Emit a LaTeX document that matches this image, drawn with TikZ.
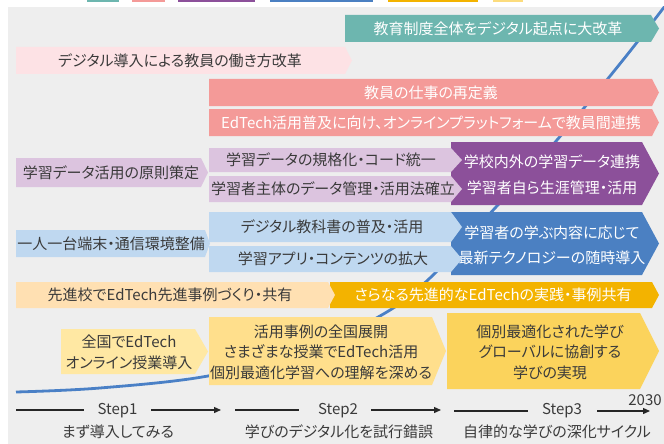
\documentclass[tikz,border=0pt]{standalone}
\usepackage{fontspec}
\setmainfont{Noto Sans CJK JP}[RawFeature=+palt]
\usetikzlibrary{arrows.meta}
\definecolor{bg}{HTML}{EEEEEE}
\definecolor{teal1}{HTML}{6DB6AF}
\definecolor{lpink}{HTML}{FDE2E5}
\definecolor{salmon}{HTML}{F49A98}
\definecolor{lpurple}{HTML}{DCC4DF}
\definecolor{dpurple}{HTML}{8C509A}
\definecolor{lblue}{HTML}{BFD8F0}
\definecolor{dblue}{HTML}{4B80C2}
\definecolor{lorange}{HTML}{FFE0B2}
\definecolor{orange1}{HTML}{F3B300}
\definecolor{lyellow}{HTML}{FFE8A3}
\definecolor{myellow}{HTML}{FFDF8C}
\definecolor{dyellow}{HTML}{FBD35C}
\definecolor{curve}{HTML}{4A80C6}
\definecolor{txt}{HTML}{3A3A3A}
\newcommand{\abox}[6]{\fill[#6] (#1,#2) -- (#3,#2) -- ({#3+#5},{(#2+#4)/2}) -- (#3,#4) -- (#1,#4) -- cycle;}
\tikzset{
  lbl/.style={inner sep=0pt, text=txt, font=\fontsize{15}{18}\selectfont},
  wlbl/.style={lbl, text=white},
  ml/.style={align=center, font=\fontsize{15}{#1}\selectfont},
  steparrow/.style={line width=1.3pt, draw=black!85},
  steptip/.style={steparrow, -{Triangle[length=7pt,width=6pt]}},
}
\begin{document}
\begin{tikzpicture}[x=1pt,y=-1pt]
\useasboundingbox (0,0) rectangle (664,444);
% background
\fill[bg] (8,7) rectangle (664,444);
% legend strips
\fill[teal1] (87,0) rectangle (119,2.5);
\fill[salmon] (132,0) rectangle (165,2.5);
\fill[dpurple] (178,0) rectangle (255,2.5);
\fill[dblue] (270,0) rectangle (373,2.5);
\fill[orange1] (388,0) rectangle (478,2.5);
\fill[dyellow!80] (493,0) rectangle (523,2.5);
% curve
\begin{scope}
\clip (8,7) rectangle (664,444);
\draw[curve, line width=2.8pt] plot[smooth, tension=0.6] coordinates
  {(16,392) (100,388) (208,376) (300,352) (380,316) (430,278) (496,207) (557,140) (623,60) (668,2)};
\end{scope}
% teal
\abox{345}{15}{651}{42}{8}{teal1}
\node[wlbl] (t1) at (498,29) {教育制度全体をデジタル起点に大改革};
% light pink
\abox{16}{47}{345}{74}{7}{lpink}
\node[lbl] (t2) at (180,61) {デジタル導入による教員の働き方改革};
% salmon
\abox{209}{79}{652}{106}{7}{salmon}
\node[wlbl] (t3) at (431,92.5) {教員の仕事の再定義};
\abox{209}{109}{652}{136}{7}{salmon}
\node[wlbl] (t4) at (431,122.5) {EdTech活用普及に向け、オンラインプラットフォームで教員間連携};
% purple
\abox{451}{142}{642}{205}{17}{dpurple}
\node[wlbl, ml=26] (t5) at (552,175) {学校内外の学習データ連携\\学習者自ら生涯管理・活用};
\abox{16}{158}{201}{187}{7}{lpurple}
\node[lbl] (t6) at (111,172.5) {学習データ活用の原則策定};
\abox{209}{148}{451}{172}{11}{lpurple}
\node[lbl] (t7) at (331,160) {学習データの規格化・コード統一};
\abox{209}{176}{451}{202}{11}{lpurple}
\node[lbl] (t8) at (333,189) {学習者主体のデータ管理・活用法確立};
% blue
\abox{451}{212}{642}{275}{17}{dblue}
\node[wlbl, ml=25] (t9) at (552,245) {学習者の学ぶ内容に応じて\\最新テクノロジーの随時導入};
\abox{16}{230}{205}{257}{5}{lblue}
\node[lbl] (t10) at (111,243.5) {一人一台端末・通信環境整備};
\abox{209}{212}{451}{242}{11}{lblue}
\node[lbl] (t11) at (332,227) {デジタル教科書の普及・活用};
\abox{209}{246}{451}{272}{11}{lblue}
\node[lbl] (t12) at (333,259) {学習アプリ・コンテンツの拡大};
% orange
\abox{330}{282}{652}{308}{7}{orange1}
\node[wlbl] (t13) at (493,295) {さらなる先進的なEdTechの実践・事例共有};
\abox{16}{282}{328}{308}{7}{lorange}
\node[lbl] (t14) at (170,295) {先進校でEdTech先進事例づくり・共有};
% yellows
\abox{447}{313}{640}{389}{19}{dyellow}
\node[lbl, ml=20.5] (t15) at (550,352) {個別最適化された学び\\グローバルに協創する\\学びの実現};
\abox{209}{317}{432}{385}{14}{myellow}
\node[lbl, ml=20.5] (t16) at (321,352) {活用事例の全国展開\\さまざまな授業でEdTech活用\\個別最適化学習への理解を深める};
\abox{61}{329}{195}{374}{13}{lyellow}
\node[lbl, ml=21] (t17) at (129,352.5) {全国でEdTech\\オンライン授業導入};
% steps
\coordinate (s1a) at (16,410); \coordinate (s1b) at (84,410);
\coordinate (s1c) at (151,410); \coordinate (s1d) at (221,410);
\node[lbl] (st1) at (117.5,411) {Step1};
\node[lbl] (sj1) at (118,432) {まず導入してみる};
\draw[steparrow] (s1a) -- (s1b);
\draw[steptip] (s1c) -- (s1d);
\coordinate (s2a) at (235,410); \coordinate (s2b) at (299,410);
\coordinate (s2c) at (371,410); \coordinate (s2d) at (441,410);
\node[lbl] (st2) at (338,411) {Step2};
\node[lbl] (sj2) at (339,432) {学びのデジタル化を試行錯誤};
\draw[steparrow] (s2a) -- (s2b);
\draw[steptip] (s2c) -- (s2d);
\coordinate (s3a) at (454,411); \coordinate (s3b) at (528,411);
\coordinate (s3c) at (597,411); \coordinate (s3d) at (650,411);
\node[lbl] (st3) at (562,411) {Step3};
\node[lbl] (sj3) at (557,432) {自律的な学びの深化サイクル};
\draw[steparrow] (s3a) -- (s3b);
\draw[steptip] (s3c) -- (s3d);
\node[lbl] (y2030) at (645,400) {2030};
\end{tikzpicture}
\end{document}
